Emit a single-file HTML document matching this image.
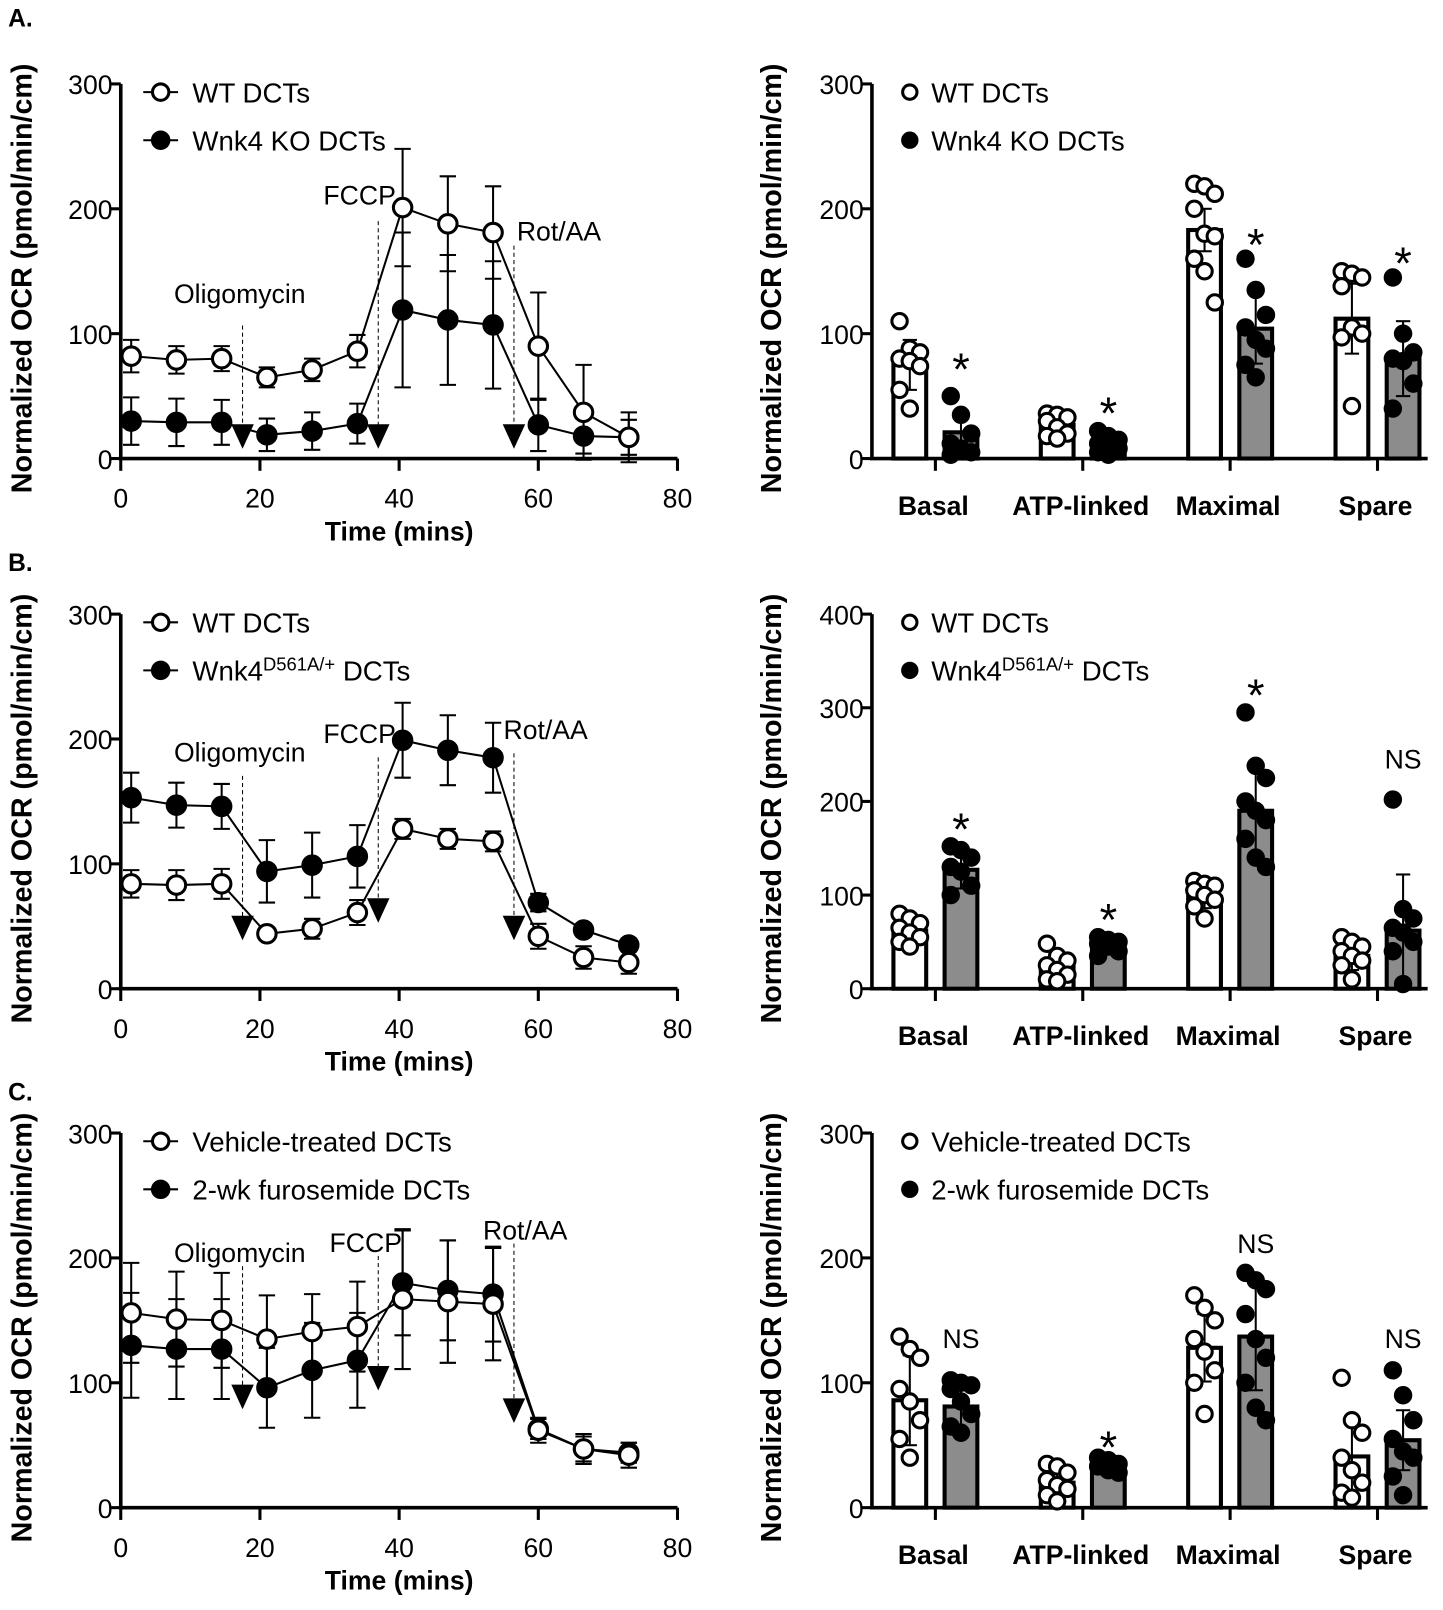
<!DOCTYPE html>
<html><head><meta charset="utf-8"><style>
html,body{margin:0;padding:0;background:#fff;}
svg{display:block;}
text{font-family:"Liberation Sans Narrow","Liberation Sans",sans-serif;fill:#000;}
</style></head><body>
<svg id="fig" width="1443" height="1610" viewBox="0 0 1410 1573" preserveAspectRatio="none" xmlns="http://www.w3.org/2000/svg"></svg>
<script>
// ---------- shared data ----------
const times = [1.5, 8, 14.5, 21, 27.5, 34, 40.5, 47, 53.5, 60, 66.5, 73];
const lineTicks = [0, 100, 200, 300];
const timeTicks = [0, 20, 40, 60, 80];
const injectTimes = [17.5, 37, 56.5];
const injectNames = ["Oligomycin", "FCCP", "Rot/AA"];
const categories = ["Basal", "ATP-linked", "Maximal", "Spare"];

// Panel A line
const aCtrlMean = [82, 79, 80, 65, 71, 86, 201, 188, 181, 90, 37, 17];
const aCtrlErr  = [13, 11, 10, 8, 9, 13, 47, 38, 37, 43, 38, 20];
const aTrtMean  = [30, 29, 29, 19, 22, 28, 119, 111, 107, 27, 18, 17];
const aTrtErr   = [19, 19, 18, 13, 15, 16, 62, 52, 51, 21, 14, 14];
// Panel B line
const bCtrlMean = [84, 83, 84, 44, 48, 61, 128, 120, 118, 42, 25, 21];
const bCtrlErr  = [11, 12, 12, 5, 8, 10, 8, 8, 8, 10, 9, 9];
const bTrtMean  = [153, 147, 146, 94, 99, 106, 199, 191, 185, 69, 47, 35];
const bTrtErr   = [20, 18, 18, 25, 26, 25, 30, 28, 28, 7, 5, 5];
// Panel C line
const cCtrlMean = [156, 151, 150, 135, 141, 145, 167, 165, 163, 62, 47, 42];
const cCtrlErr  = [40, 38, 38, 35, 30, 36, 56, 49, 45, 10, 12, 10];
const cTrtMean  = [130, 127, 127, 96, 110, 118, 180, 174, 171, 63, 47, 44];
const cTrtErr   = [42, 40, 40, 32, 38, 38, 42, 40, 38, 8, 10, 8];

// Panel A bars
const aBarCtrl = [75, 27, 183, 112];
const aBarCtrlErr = [20, 8, 17, 28];
const aBarTrt = [21, 10, 104, 80];
const aBarTrtErr = [15, 6, 28, 30];
const aPtsCtrl = [[110,88,85,80,78,74,55,40],[36,35,33,30,25,20,18,16],[220,218,212,200,180,178,160,150,125],[150,148,145,138,105,100,97,42]];
const aPtsTrt = [[50,35,20,12,8,5,3],[22,18,15,12,10,8,5,3],[160,135,115,105,95,88,75,65],[145,100,85,80,78,60,40]];
const aAnnot = ["*", "*", "*", "*"];
const aAnnotVal = [80, 45, 180, 165];
// Panel B bars
const bBarCtrl = [62, 24, 98, 35];
const bBarCtrlErr = [13, 12, 12, 15];
const bBarTrt = [127, 47, 190, 62];
const bBarTrtErr = [20, 8, 47, 60];
const bPtsCtrl = [[80,75,70,65,60,55,50,45],[48,35,30,25,20,15,10,8],[115,112,110,105,100,95,88,75],[55,50,45,40,35,30,25,10]];
const bPtsTrt = [[152,148,140,130,125,110,100],[55,52,50,48,45,40,35],[295,238,225,200,190,180,160,140,130],[202,85,75,65,60,50,40,5]];
const bAnnot = ["*", "*", "*", "NS"];
const bAnnotVal = [182, 85, 325, 235];
// Panel C bars
const cBarCtrl = [86, 20, 128, 41];
const cBarCtrlErr = [36, 10, 27, 31];
const cBarTrt = [81, 32, 137, 54];
const cBarTrtErr = [19, 6, 43, 24];
const cPtsCtrl = [[137,127,120,95,85,70,55,40],[35,33,28,22,18,15,10,5],[170,160,150,135,125,110,100,75],[104,70,60,40,30,20,12,8]];
const cPtsTrt = [[102,100,98,95,85,75,65,60],[40,38,35,33,30,28],[188,182,175,155,135,120,100,80,70],[110,90,70,55,45,40,25,10]];
const cAnnot = ["NS", "*", "NS", "NS"];
const cAnnotVal = [128, 57, 204, 128];

// ---------- helpers ----------
const NS = "http://www.w3.org/2000/svg";
const svg = document.getElementById("fig");
function el(tag, attrs, parent) {
  const e = document.createElementNS(NS, tag);
  for (const k in attrs) e.setAttribute(k, attrs[k]);
  (parent || svg).appendChild(e);
  return e;
}
function txt(s, x, y, size, anchor, parent, bold) {
  const t = el("text", {x: x, y: y, "font-size": size, "text-anchor": anchor || "start"}, parent);
  if (bold) t.setAttribute("font-weight", "bold");
  t.textContent = s;
  return t;
}

// ---------- line chart ----------
function lineChart(base, ctrlM, ctrlE, trtM, trtE, legCtrl, legTrt, labelPos, arrowVals, sup) {
  const g = el("g", {});
  
  
  const x0 = 118, xs = 6.8, ys = 366 / 300;
  const X = t => x0 + t * xs;
  const Y = v => base - v * ys;
  const ya = el("line", {x1: x0, y1: Y(300), x2: x0, y2: base, stroke: "#000", "stroke-width": 3.5}, g);
  
  
  const xa = el("line", {x1: x0 - 2, y1: base, x2: X(80), y2: base, stroke: "#000", "stroke-width": 3.5}, g);
  
  
  lineTicks.forEach(v => {
    el("line", {x1: x0 - 10, y1: Y(v), x2: x0, y2: Y(v), stroke: "#000", "stroke-width": 3}, g);
    const t = txt(String(v), x0 - 8, Y(v) + 10, 26, "end", g);
    
    
  });
  timeTicks.forEach(v => {
    el("line", {x1: X(v), y1: base, x2: X(v), y2: base + 12, stroke: "#000", "stroke-width": 3}, g);
    const t = txt(String(v), X(v), base + 48, 26, "middle", g);
    
    
  });
  const xt = txt("Time (mins)", 390, base + 80, 26, "middle", g, true);
  
  
  injectTimes.forEach((t, i) => {
    const lp = labelPos[i];
    const dl = el("line", {x1: X(t), y1: base - lp[2], x2: X(t), y2: Y(arrowVals[i]) - 10, stroke: "#000", "stroke-width": 1, "stroke-dasharray": "4,3"}, g);
    
    
    const ay = Y(arrowVals[i]);
    const ar = el("path", {d: `M${X(t)-11},${ay-14} L${X(t)+11},${ay-14} L${X(t)},${ay+10} Z`, fill: "#000"}, g);
    
    
    const lt = txt(injectNames[i], lp[0], base - lp[1], 26, "start", g);
    
    
  });
  function series(m, e, fill, name) {
    const sg = el("g", {}, g);
    
    
    m.forEach((v, i) => {
      const x = X(times[i]);
      el("line", {x1: x, y1: Y(v + e[i]), x2: x, y2: Y(v - e[i]), stroke: "#000", "stroke-width": 2}, sg);
      el("line", {x1: x - 8, y1: Y(v + e[i]), x2: x + 8, y2: Y(v + e[i]), stroke: "#000", "stroke-width": 2}, sg);
      el("line", {x1: x - 8, y1: Y(v - e[i]), x2: x + 8, y2: Y(v - e[i]), stroke: "#000", "stroke-width": 2}, sg);
    });
    el("polyline", {points: m.map((v, i) => X(times[i]) + "," + Y(v)).join(" "), fill: "none", stroke: "#000", "stroke-width": 2}, sg);
    m.forEach((v, i) => {
      const c = el("circle", {cx: X(times[i]), cy: Y(v), r: 9, fill: fill, stroke: "#000", "stroke-width": 3}, sg);
      
      
    });
  }
  series(trtM, trtE, "#000", "treated-series");
  series(ctrlM, ctrlE, "#fff", "control-series");
  [[legCtrl, "#fff", 8], [legTrt, "#000", 55]].forEach(([lab, f, dy], k) => {
    const lg = el("g", {}, g);
    
    
    const ly = Y(300) + dy;
    el("line", {x1: 140, y1: ly, x2: 174, y2: ly, stroke: "#000", "stroke-width": 2}, lg);
    el("circle", {cx: 157, cy: ly, r: 8, fill: f, stroke: "#000", "stroke-width": 3}, lg);
    const t = txt(lab, 188, ly + 10, 27, "start", lg);
    if (k && sup) {
      const ts = el("tspan", {"font-size": 18, dy: -10}, t); ts.textContent = sup;
      const t2 = el("tspan", {dy: 10}, t); t2.textContent = " DCTs";
    }
  });
  const yt = txt("Normalized OCR (pmol/min/cm)", 0, 0, 28, "middle", g, true);
  yt.setAttribute("transform", `translate(31,${base - 176}) rotate(-90)`);
  
  
}

// ---------- bar chart ----------
function barChart(base, maxV, ticks, ctrl, ctrlE, trt, trtE, ptsC, ptsT, annot, annotV, legCtrl, legTrt, sup) {
  const g = el("g", {});
  
  
  const x0 = 852, ys = 366 / maxV;
  const Y = v => base - v * ys;
  const C = i => 914 + i * 144;
  const ya = el("line", {x1: x0, y1: Y(maxV), x2: x0, y2: base, stroke: "#000", "stroke-width": 3.5}, g);
  
  
  const xa = el("line", {x1: x0 - 2, y1: base, x2: 1395, y2: base, stroke: "#000", "stroke-width": 3.5}, g);
  
  
  ticks.forEach(v => {
    el("line", {x1: x0 - 10, y1: Y(v), x2: x0, y2: Y(v), stroke: "#000", "stroke-width": 3}, g);
    const t = txt(String(v), x0 - 8, Y(v) + 10, 26, "end", g);
    
    
  });
  categories.forEach((c, i) => {
    el("line", {x1: C(i), y1: base, x2: C(i), y2: base + 12, stroke: "#000", "stroke-width": 3}, g);
    const t = txt(c, C(i) - 2, base + 55, 26, "middle", g, true);
    
    
  });
  function bars(vals, errs, pts, off, fill, pfill, name) {
    vals.forEach((v, i) => {
      const cx = C(i) + off;
      const r = el("rect", {x: cx - 16, y: Y(v), width: 32, height: base - Y(v), fill: fill, stroke: "#000", "stroke-width": 4}, g);
      
      
      el("line", {x1: cx, y1: Y(v + errs[i]), x2: cx, y2: Y(v - errs[i]), stroke: "#000", "stroke-width": 2}, g);
      el("line", {x1: cx - 7, y1: Y(v + errs[i]), x2: cx + 7, y2: Y(v + errs[i]), stroke: "#000", "stroke-width": 2}, g);
      el("line", {x1: cx - 7, y1: Y(v - errs[i]), x2: cx + 7, y2: Y(v - errs[i]), stroke: "#000", "stroke-width": 2}, g);
      pts[i].forEach((p, k) => {
        const c = el("circle", {cx: cx + ((k % 3) - 1) * 10, cy: Y(p), r: 7.5, fill: pfill, stroke: "#000", "stroke-width": 3}, g);
        
        
      });
    });
  }
  bars(ctrl, ctrlE, ptsC, -25, "#fff", "#fff", "control");
  bars(trt, trtE, ptsT, 25, "#8c8c8c", "#000", "treated");
  annot.forEach((a, i) => {
    const star = a === "*";
    const t = txt(a, C(i) + 25, Y(annotV[i]) + (star ? 26 : 0), star ? 44 : 26, "middle", g);
    
    
  });
  [[legCtrl, "#fff", 8], [legTrt, "#000", 55]].forEach(([lab, f, dy], k) => {
    const lg = el("g", {}, g);
    
    
    const ly = base - 366 + dy;
    el("circle", {cx: 889, cy: ly, r: 7, fill: f, stroke: "#000", "stroke-width": 3}, lg);
    const t = txt(lab, 910, ly + 10, 27, "start", lg);
    if (k && sup) {
      const ts = el("tspan", {"font-size": 18, dy: -10}, t); ts.textContent = sup;
      const t2 = el("tspan", {dy: 10}, t); t2.textContent = " DCTs";
    }
  });
  const yt = txt("Normalized OCR (pmol/min/cm)", 0, 0, 28, "middle", g, true);
  yt.setAttribute("transform", `translate(763,${base - 176}) rotate(-90)`);
  
  
}

[["A.", 26], ["B.", 558], ["C.", 1075]].forEach(([s, y]) => {
  const t = txt(s, 8, y, 24, "start", svg, true);
  
  
});

lineChart(448, aCtrlMean, aCtrlErr, aTrtMean, aTrtErr, "WT DCTs", "Wnk4 KO DCTs",
  [[170, 152, 130], [316, 248, 232], [505, 213, 208]], [16, 16, 16], null);
barChart(448, 300, [0, 100, 200, 300], aBarCtrl, aBarCtrlErr, aBarTrt, aBarTrtErr, aPtsCtrl, aPtsTrt, aAnnot, aAnnotVal, "WT DCTs", "Wnk4 KO DCTs", null);

lineChart(966, bCtrlMean, bCtrlErr, bTrtMean, bTrtErr, "WT DCTs", "Wnk4",
  [[170, 222, 208], [316, 240, 226], [492, 244, 230]], [47, 61, 47], "D561A/+");
barChart(966, 400, [0, 100, 200, 300, 400], bBarCtrl, bBarCtrlErr, bBarTrt, bBarTrtErr, bPtsCtrl, bPtsTrt, bAnnot, bAnnotVal, "WT DCTs", "Wnk4", "D561A/+");

lineChart(1473, cCtrlMean, cCtrlErr, cTrtMean, cTrtErr, "Vehicle-treated DCTs", "2-wk furosemide DCTs",
  [[170, 240, 236], [322, 250, 246], [472, 262, 258]], [87, 102, 76], null);
barChart(1473, 300, [0, 100, 200, 300], cBarCtrl, cBarCtrlErr, cBarTrt, cBarTrtErr, cPtsCtrl, cPtsTrt, cAnnot, cAnnotVal, "Vehicle-treated DCTs", "2-wk furosemide DCTs", null);
</script>
</body></html>
